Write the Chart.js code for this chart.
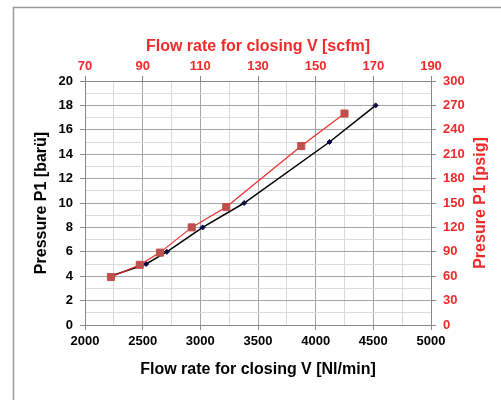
<!DOCTYPE html>
<html>
<head>
<meta charset="utf-8">
<script src="https://cdn.jsdelivr.net/npm/chart.js@4"></script>
<style>
  html, body { margin: 0; padding: 0; background: #fff; }
  canvas { display: block; }
</style>
</head>
<body>
<canvas id="chart" width="501" height="400"></canvas>
<script>
// black series: flow in Nl/min vs pressure in bar
const flowNl = [2220, 2530, 2710, 3020, 3380, 4120, 4520];
const pressureBar = [4, 5, 6, 8, 10, 15, 18];
// red series: flow in scfm vs pressure in psig
const flowScfm = [79, 89, 96, 107, 119, 145, 160];
const pressurePsig = [59, 74, 89, 120, 145, 220, 260];

const red = '#f02a2a';
const tickFont = { family: 'Liberation Sans, Arial, sans-serif', size: 13, weight: 'bold' };
const titleFont = { family: 'Liberation Sans, Arial, sans-serif', size: 16, weight: 'bold' };

let toPoints = (xs, ys) => xs.map((x, i) => ({ x: x, y: ys[i] }));

// chart border (left + top only) and the right-hand title, which reads bottom-to-top
const frame = {
  id: 'frame',
  beforeDraw(chart) {
    const c = chart.ctx;
    c.save();
    c.fillStyle = '#fff';
    c.fillRect(0, 0, chart.width, chart.height);
    c.strokeStyle = '#9a9a9a';
    c.lineWidth = 1.5;
    c.beginPath();
    c.moveTo(13.5, chart.height);
    c.lineTo(13.5, 7.5);
    c.lineTo(chart.width, 7.5);
    c.stroke();
    c.restore();
  },
  afterDraw(chart) {
    const c = chart.ctx;
    const a = chart.chartArea;
    c.save();
    c.translate(481, (a.top + a.bottom) / 2);
    c.rotate(-Math.PI / 2);
    c.fillStyle = red;
    c.font = 'bold 16px Liberation Sans, Arial, sans-serif';
    c.textAlign = 'center';
    c.textBaseline = 'middle';
    c.fillText('Presure P1 [psig]', 0, 0);
    c.restore();
  }
};

let majorGrid = (step) => (ctx) => ctx.tick && ctx.tick.value % step === 0 ? '#a6a6a6' : '#dadada';
let majorTick = (step) => (ctx) => ctx.tick && ctx.tick.value % step === 0 ? '#888' : 'rgba(0,0,0,0)';

new Chart(document.getElementById('chart'), {
  type: 'scatter',
  data: {
    datasets: [{
      label: 'psig / scfm',
      data: toPoints(flowScfm, pressurePsig),
      xAxisID: 'x2',
      yAxisID: 'y2',
      showLine: true,
      borderColor: red,
      borderWidth: 1.2,
      pointStyle: 'rect',
      pointRadius: 5,
      pointBorderWidth: 1,
      pointBackgroundColor: '#c0504d',
      pointBorderColor: '#c0504d',
      order: 0
    }, {
      label: 'bar / Nl/min',
      data: toPoints(flowNl, pressureBar),
      xAxisID: 'x',
      yAxisID: 'y',
      showLine: true,
      borderColor: '#000',
      borderWidth: 1.5,
      pointStyle: 'rectRot',
      pointRadius: 2.5,
      pointBorderWidth: 1,
      pointBackgroundColor: '#0b0b45',
      pointBorderColor: '#0b0b45',
      order: 1
    }]
  },
  options: {
    responsive: false,
    animation: false,
    layout: { padding: 0 },
    plugins: {
      legend: { display: false },
      tooltip: { enabled: false }
    },
    scales: {
      x: {
        type: 'linear',
        position: 'bottom',
        min: 2000, max: 5000,
        afterFit: (s) => { s.height = 75; },
        ticks: {
          stepSize: 250, autoSkip: false, maxRotation: 0, padding: 4,
          color: '#000', font: tickFont,
          callback: (v) => v % 500 === 0 ? String(v) : ''
        },
        grid: { color: majorGrid(500), tickColor: majorTick(500), tickLength: 5 },
        border: { color: '#888' },
        title: {
          display: true, text: 'Flow rate for closing V [Nl/min]',
          color: '#000', font: titleFont, padding: { top: 0, bottom: 21 }
        }
      },
      y: {
        type: 'linear',
        position: 'left',
        min: 0, max: 20,
        afterFit: (s) => { s.width = 85; },
        ticks: {
          stepSize: 1, autoSkip: false, padding: 7,
          color: '#000', font: tickFont,
          callback: (v) => v % 2 === 0 ? String(v) : ''
        },
        grid: { color: majorGrid(2), tickColor: majorTick(2), tickLength: 5 },
        border: { color: '#888' },
        title: {
          display: true, text: 'Pressure P1 [barü]',
          color: '#000', font: titleFont, padding: { top: 32, bottom: 0 }
        }
      },
      x2: {
        type: 'linear',
        position: 'top',
        min: 70, max: 190,
        afterFit: (s) => { s.height = 81; },
        ticks: {
          stepSize: 20, autoSkip: false, maxRotation: 0, padding: 2,
          color: red, font: tickFont,
          callback: (v) => String(v)
        },
        grid: { drawOnChartArea: false, tickColor: '#888', tickLength: 5 },
        border: { color: '#888' },
        title: {
          display: true, text: 'Flow rate for closing V [scfm]',
          color: red, font: titleFont, padding: { top: 37, bottom: 0 }
        }
      },
      y2: {
        type: 'linear',
        position: 'right',
        min: 0, max: 300,
        afterFit: (s) => { s.width = 70; },
        ticks: {
          stepSize: 30, autoSkip: false, padding: 7,
          color: red, font: tickFont,
          callback: (v) => String(v)
        },
        grid: { drawOnChartArea: false, tickColor: '#888', tickLength: 5 },
        border: { color: '#888' },
        title: { display: false }
      }
    }
  },
  plugins: [frame]
});
</script>
</body>
</html>
